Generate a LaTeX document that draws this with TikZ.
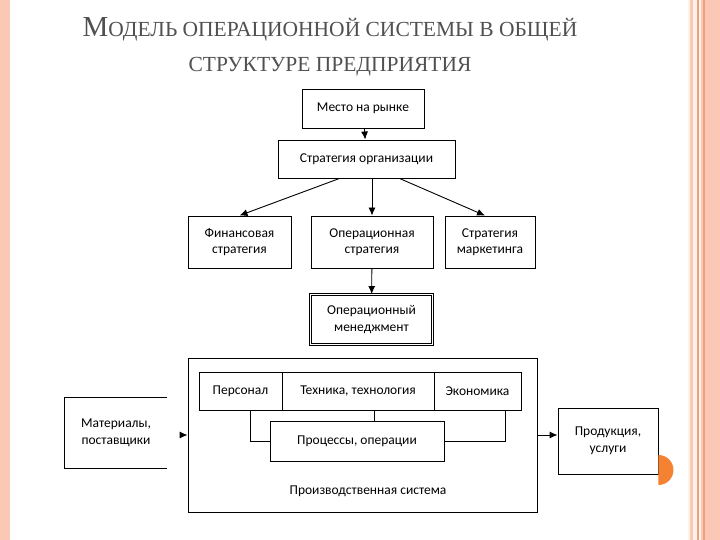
\documentclass[tikz,border=0pt]{standalone}
\usepackage{fontspec}
\setmainfont{Carlito}
\newfontfamily\titlefont{Liberation Serif}
\usetikzlibrary{arrows.meta}
\definecolor{salmon}{RGB}{250,200,180}
\definecolor{salmond}{RGB}{240,160,130}
\definecolor{cream}{RGB}{253,243,230}
\definecolor{orng}{RGB}{245,130,50}
\definecolor{ttl}{RGB}{80,80,80}
\tikzset{
  box/.style={draw, line width=0.9pt, align=center, font=\fontsize{13.5}{16.5}\selectfont, inner sep=0pt},
  arr/.style={-{Latex[length=8pt,width=7pt]}, line width=0.9pt},
  ln/.style={line width=0.8pt}
}
\begin{document}
\begin{tikzpicture}[x=1pt,y=-1pt]
\useasboundingbox (0,0) rectangle (720,540);
\fill[white] (0,0) rectangle (720,540);
% borders
\fill[salmon] (0,0) rectangle (10,540);
\fill[cream] (688,0) rectangle (720,540);
\fill[salmon] (690,0) rectangle (693,540);
\fill[salmond] (697,0) rectangle (699,540);
\fill[salmon] (701,0) rectangle (720,540);
\fill[salmond] (703,0) rectangle (705,540);
% title
\node[font=\titlefont\color{ttl}, anchor=base] (t1) at (330,37) {{\fontsize{29}{32}\selectfont М}{\fontsize{21.5}{24}\selectfont ОДЕЛЬ ОПЕРАЦИОННОЙ СИСТЕМЫ В ОБЩЕЙ}};
\node[font=\titlefont\color{ttl}, anchor=base] (t2) at (330,72) {\fontsize{21.5}{24}\selectfont СТРУКТУРЕ ПРЕДПРИЯТИЯ};
% boxes
\node[box, minimum width=122, minimum height=39] (mesto) at (363,108.5) {Место на рынке};
\node[box, minimum width=177, minimum height=38] (strat) at (366.5,159) {Стратегия организации};
\node[box, minimum width=103, minimum height=52] (fin) at (239.5,242) {Финансовая\\стратегия};
\node[box, minimum width=122, minimum height=52] (oper) at (372,242) {Операционная\\стратегия};
\node[box, minimum width=90, minimum height=52] (mark) at (490,242) {Стратегия\\маркетинга};
\node[box, double, double distance=1.5pt, minimum width=122, minimum height=50] (om) at (371.5,319.5) {Операционный\\менеджмент};
\node[box, minimum width=349, minimum height=154] (ps) at (362.5,435) {};
\node[box, draw=none, anchor=base] (pslbl) at (368,494) {Производственная система};
\node[box, minimum width=83, minimum height=38] (pers) at (240.5,391) {Персонал};
\node[box, minimum width=152, minimum height=38] (tech) at (358,391) {Техника, технология};
\node[box, minimum width=87, minimum height=38] (econ) at (477.5,391) {Экономика};
\node[box, minimum width=174, minimum height=40] (proc) at (357,441) {Процессы, операции};
\node[box, draw=none, minimum width=102, minimum height=70] (mat) at (116,433) {Материалы,\\поставщики};
\draw[line width=0.9pt] (mat.north east) -- (mat.north west) -- (mat.south west) -- (mat.south east);
\node[box, minimum width=100, minimum height=66] (prod) at (608,441) {Продукция,\\услуги};
\fill[orng] (prod.east |- 0,455) arc[start angle=-90, end angle=90, radius=15];
% connectors
\draw[arr] (mesto) -- (strat);
\draw[arr] ([xshift=-27]strat.south) -- ([xshift=0]fin.north);
\draw[arr] (strat.south -| oper.north) -- (oper.north);
\draw[arr] ([xshift=33]strat.south) -- ([xshift=-5]mark.north);
\draw[arr] (oper) -- (om);
\draw[ln] (pers.south -| 250,0) |- (proc.west);
\draw[ln] (tech.south -| 374,0) -- (proc.north -| 374,0);
\draw[ln] (econ.south -| 505,0) |- (proc.east);
\draw[arr] ([xshift=14]mat.east |- 0,435) -- (ps.west |- 0,435);
\draw[arr] (ps.east |- 0,435) -- (prod.west |- 0,435);
\end{tikzpicture}
\end{document}
